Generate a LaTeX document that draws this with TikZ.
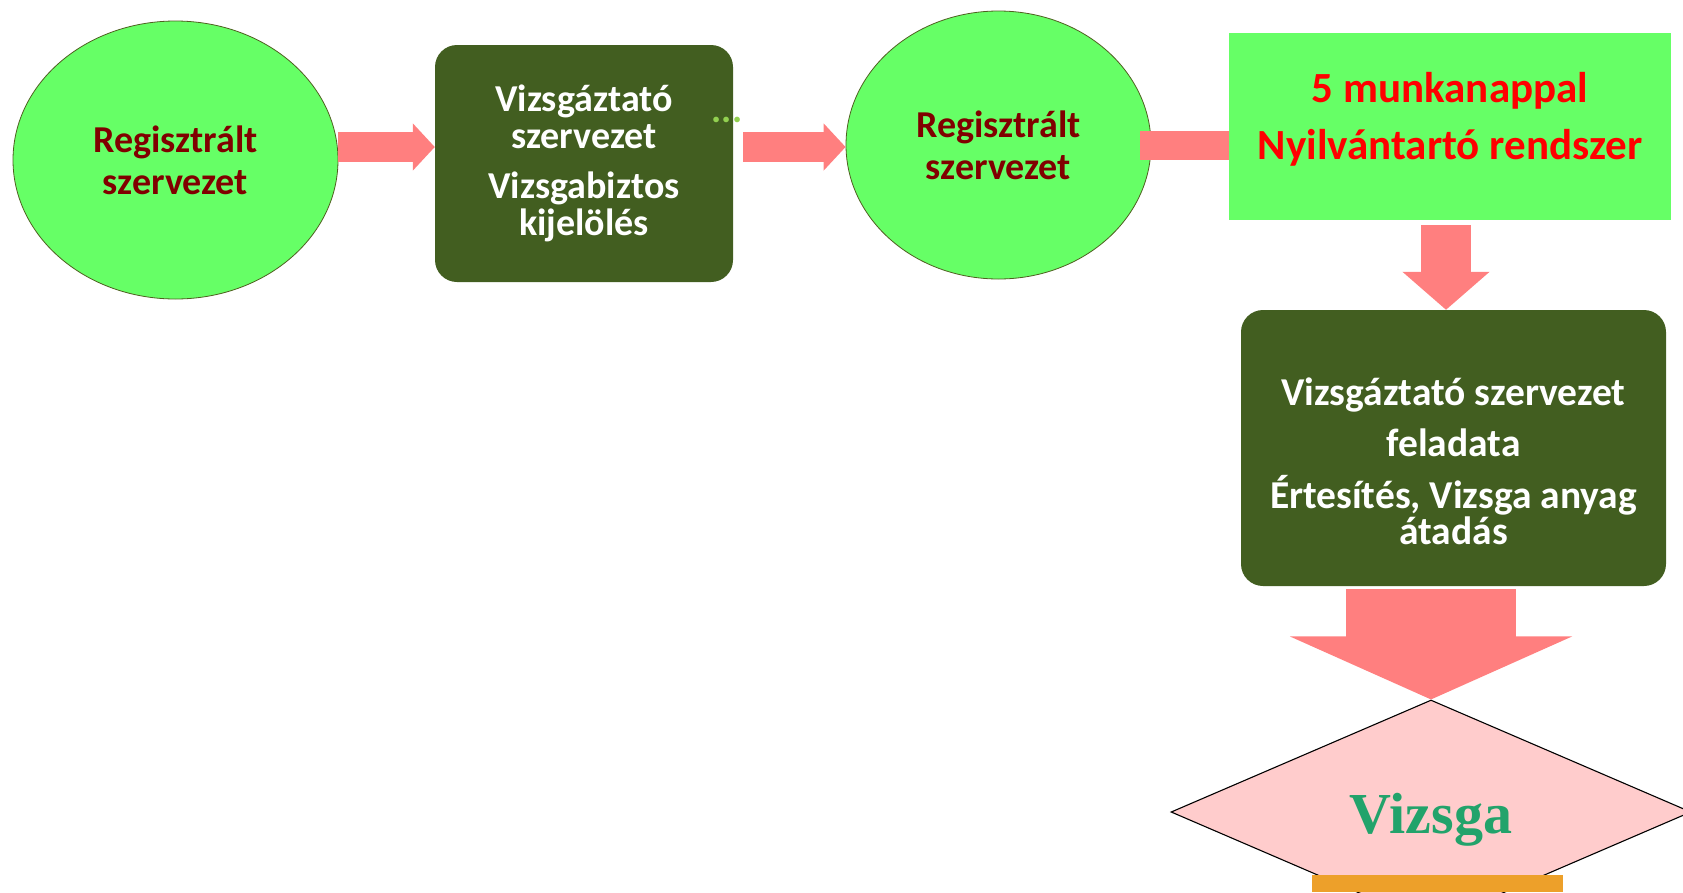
\documentclass[tikz,border=0pt]{standalone}
\usepackage{fontspec}
\setmainfont{Carlito}
\newfontfamily\vizsgafont{Liberation Serif}
\usetikzlibrary{shapes.geometric,arrows.meta}
\begin{document}
\begin{tikzpicture}[x=1pt, y=-1pt,
    regnode/.style={ellipse, draw=ell-edge, line width=0.8pt, fill=my-green, text=my-maroon, align=center,
      font=\bfseries\fontsize{38}{42}\selectfont},
    taskbox/.style={rectangle, rounded corners=22pt, fill=my-olive, text=white, align=center,
      font=\bfseries\fontsize{38}{36.5}\selectfont},
    fat/.style={draw=my-pink, line width=#1}]
    \definecolor{my-green}{HTML}{66FF66}
    \definecolor{my-olive}{HTML}{425E20}
    \definecolor{my-maroon}{HTML}{800000}
    \definecolor{ell-edge}{HTML}{4F5F20}
    \definecolor{my-pink}{HTML}{FF7F7F}
    \definecolor{my-rose}{HTML}{FFCCCC}
    \definecolor{vizsga-green}{HTML}{22A36B}
    \definecolor{my-orange}{HTML}{EDA02A}
    \definecolor{dot-green}{HTML}{92D050}
    \useasboundingbox (0,0) rectangle (1683,892);
    \node[regnode, minimum width=325pt, minimum height=278pt] (reg1) at (175.5,160) {Regisztrált\\szervezet};
    \node[taskbox, minimum width=298pt, minimum height=237pt] (vizsgaztato) at (584,163.5)
      {Vizsgáztató\\szervezet\\[14pt]Vizsgabiztos\\kijelölés};
    \node[text=dot-green, font=\bfseries\fontsize{38}{38}\selectfont] (dots) at (727,120) {...};
    \node[regnode, minimum width=305pt, minimum height=268pt] (reg2) at (998.5,145) {Regisztrált\\szervezet};
    \node[rectangle, fill=my-green, text=red, align=center, font=\bfseries\fontsize{43}{45}\selectfont,
      minimum width=442pt, minimum height=187pt] (nyilv) at (1450,126.5) {5 munkanappal\\[12pt]Nyilvántartó rendszer\\[-23.5pt]\mbox{}};
    \node[taskbox, minimum width=425pt, minimum height=276pt, font=\bfseries\fontsize{39.5}{36.5}\selectfont] (feladat) at (1453.5,448)
      {\mbox{}\\[17.5pt]Vizsgáztató szervezet\\[15pt]feladata\\[15pt]Értesítés, Vizsga anyag\\átadás};
    \node[diamond, draw, line width=1.1pt, fill=my-rose, text=vizsga-green, inner sep=0pt,
      font=\vizsgafont\bfseries\fontsize{58}{58}\selectfont,
      minimum width=520pt, minimum height=224pt] (vizsga) at (1431,812) {\raisebox{-21.5pt}[0pt][0pt]{Vizsga}};
    \fill[my-orange] (1312,875) rectangle (1563,892);
    \draw[fat=30pt, -{Triangle[length=22pt, width=46pt]}] ([yshift=13pt]reg1.east) -- ([yshift=16.5pt]vizsgaztato.west);
    \draw[fat=30pt, -{Triangle[length=22pt, width=46pt]}] ([xshift=10pt, yshift=16.5pt]vizsgaztato.east) -- ([yshift=-2pt]reg2.west);
    \draw[fat=29pt] ([xshift=-11pt]reg2.east) -- (reg2.east -| nyilv.west);
    \draw[fat=50pt, -{Triangle[length=38pt, width=85pt]}] ([xshift=-4pt, yshift=-5pt]nyilv.south) -- ([xshift=-4pt]nyilv.south |- feladat.north);
    \draw[fat=170pt, -{Triangle[length=63pt, width=280pt]}] ([yshift=-3pt]feladat.south -| vizsga.north) -- (vizsga.north);
\end{tikzpicture}
\end{document}
